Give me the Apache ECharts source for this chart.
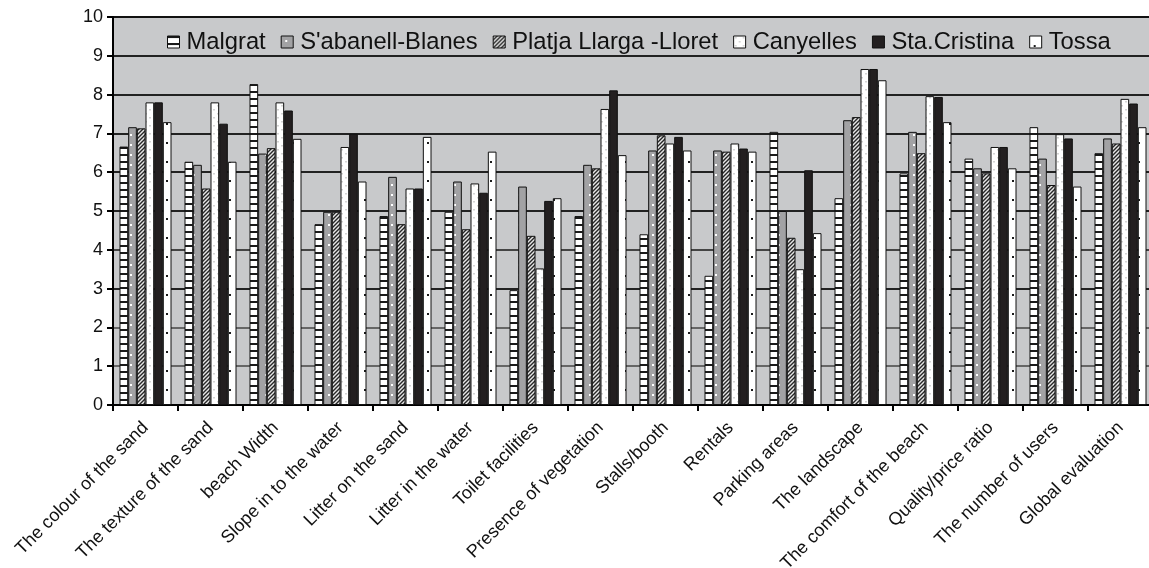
<!DOCTYPE html>
<html>
<head>
<meta charset="utf-8">
<script src="https://cdn.jsdelivr.net/npm/echarts@6/dist/echarts.min.js"></script>
<style>
  html, body { margin: 0; padding: 0; background: #fff; }
  #chart { width: 1149px; height: 568px; }
</style>
</head>
<body>
<div id="chart"></div>
<script>
// Beach attribute ratings (0-10) for six beaches
const categories = [
  'The colour of the sand', 'The texture of the sand', 'beach Width',
  'Slope in to the water', 'Litter on the sand', 'Litter in the water',
  'Toilet facilities', 'Presence of vegetation', 'Stalls/booth', 'Rentals',
  'Parking areas', 'The landscape', 'The comfort of the beach',
  'Quality/price ratio', 'The number of users', 'Global evaluation'
];
const beachNames = ['Malgrat', "S'abanell-Blanes", 'Platja Llarga -Lloret', 'Canyelles', 'Sta.Cristina', 'Tossa'];

const malgrat     = [6.66, 6.27, 8.27, 4.66, 4.87, 4.98, 2.96, 4.87, 4.40, 3.33, 7.04, 5.33, 5.97, 6.35, 7.16, 6.49];
const sabanell    = [7.16, 6.19, 6.48, 4.98, 5.88, 5.76, 5.63, 6.19, 6.56, 6.56, 5.00, 7.34, 7.04, 6.10, 6.35, 6.87];
const platja      = [7.13, 5.58, 6.62, 4.98, 4.66, 4.53, 4.36, 6.10, 6.95, 6.53, 4.31, 7.42, 6.49, 5.97, 5.67, 6.74];
const canyelles   = [7.80, 7.80, 7.80, 6.65, 5.58, 5.71, 3.52, 7.63, 6.74, 6.74, 3.50, 8.66, 7.96, 6.65, 6.98, 7.89];
const staCristina = [7.80, 7.25, 7.59, 6.99, 5.58, 5.47, 5.26, 8.11, 6.91, 6.61, 6.05, 8.66, 7.94, 6.65, 6.87, 7.77];
const tossa       = [7.29, 6.27, 6.86, 5.76, 6.91, 6.53, 5.33, 6.44, 6.56, 6.53, 4.43, 8.37, 7.29, 6.10, 5.63, 7.16];

const yTicks = [0, 1, 2, 3, 4, 5, 6, 7, 8, 9, 10];

// ---- fill patterns (small tiles repeated over each bar) ----
function tile(w, h, draw) {
  const c = document.createElement('canvas');
  c.width = w; c.height = h;
  const ctx = c.getContext('2d');
  draw(ctx, w, h);
  return { image: c, repeat: 'repeat' };
}
const ladderFill = tile(8, 7, (ctx, w, h) => {
  ctx.fillStyle = '#ffffff'; ctx.fillRect(0, 0, w, h);
  ctx.fillStyle = '#1a1a1a'; ctx.fillRect(0, 0, w, 2);
});
const greyDotFill = tile(9, 10, (ctx, w, h) => {
  ctx.fillStyle = '#a2a2a4'; ctx.fillRect(0, 0, w, h);
  ctx.fillStyle = '#ffffff'; ctx.fillRect(4, 4, 2, 2);
});
const hatchFill = tile(4, 4, (ctx, w, h) => {
  ctx.fillStyle = '#e6e6e6'; ctx.fillRect(0, 0, w, h);
  ctx.strokeStyle = '#262626'; ctx.lineWidth = 1.4;
  ctx.beginPath();
  ctx.moveTo(0, 4); ctx.lineTo(4, 0);
  ctx.moveTo(-1, 1); ctx.lineTo(1, -1);
  ctx.moveTo(3, 5); ctx.lineTo(5, 3);
  ctx.stroke();
});
const paleDotFill = tile(8, 8, (ctx, w, h) => {
  ctx.fillStyle = '#ffffff'; ctx.fillRect(0, 0, w, h);
  ctx.fillStyle = '#d4d4d4';
  ctx.fillRect(1, 1, 2, 1.5);
  ctx.fillRect(5, 5, 2, 1.5);
});
const solidFill = '#231f20';
const sparseDotFill = tile(9, 19, (ctx, w, h) => {
  ctx.fillStyle = '#ffffff'; ctx.fillRect(0, 0, w, h);
  ctx.fillStyle = '#1a1a1a'; ctx.fillRect(4, 9, 2, 2);
});

const seriesData = [malgrat, sabanell, platja, canyelles, staCristina, tossa];
const fills = [ladderFill, greyDotFill, hatchFill, paleDotFill, solidFill, sparseDotFill];

const FONT = '"Liberation Sans", Arial, sans-serif';

const chart = echarts.init(document.getElementById('chart'), null, { renderer: 'canvas' });
chart.setOption({
  animation: false,
  backgroundColor: '#ffffff',
  grid: {
    left: 113, right: -4, top: 17, bottom: 163,
    outerBoundsMode: 'none',
    show: true, backgroundColor: '#c8c9cb', borderWidth: 0
  },
  legend: {
    data: beachNames,
    left: 162, top: 25,
    itemWidth: 12, itemHeight: 12, itemGap: 15,
    icon: 'rect',
    itemStyle: { borderColor: '#111', borderWidth: 1 },
    textStyle: { fontSize: 23.75, color: '#111', fontFamily: FONT, padding: [0, 0, 0, 2] }
  },
  xAxis: {
    type: 'category',
    data: categories,
    axisLine: { lineStyle: { color: '#000', width: 2 } },
    axisTick: { show: true, length: 6, lineStyle: { color: '#000', width: 2 } },
    axisLabel: { interval: 0, rotate: 45, margin: 20, fontSize: 18, color: '#111', fontFamily: FONT },
    splitLine: { show: false }
  },
  yAxis: {
    type: 'value',
    min: yTicks[0], max: yTicks[yTicks.length - 1], interval: 1,
    axisLine: { show: true, lineStyle: { color: '#000', width: 2 } },
    axisTick: { show: true, length: 6, lineStyle: { color: '#000', width: 2 } },
    axisLabel: { fontSize: 18, color: '#111', fontFamily: FONT, margin: 10 },
    splitLine: {
      show: true,
      lineStyle: {
        width: 2,
        color: ['#111', '#666', '#666', '#222', '#444', '#222', '#222', '#222', '#222', '#222', '#111']
      }
    }
  },
  series: beachNames.map((name, i) => ({
    name: name,
    type: 'bar',
    data: seriesData[i],
    barGap: '0%',
    barCategoryGap: '20%',
    itemStyle: { color: fills[i], borderColor: '#111', borderWidth: 1 },
    emphasis: { disabled: true }
  }))
});
</script>
</body>
</html>
